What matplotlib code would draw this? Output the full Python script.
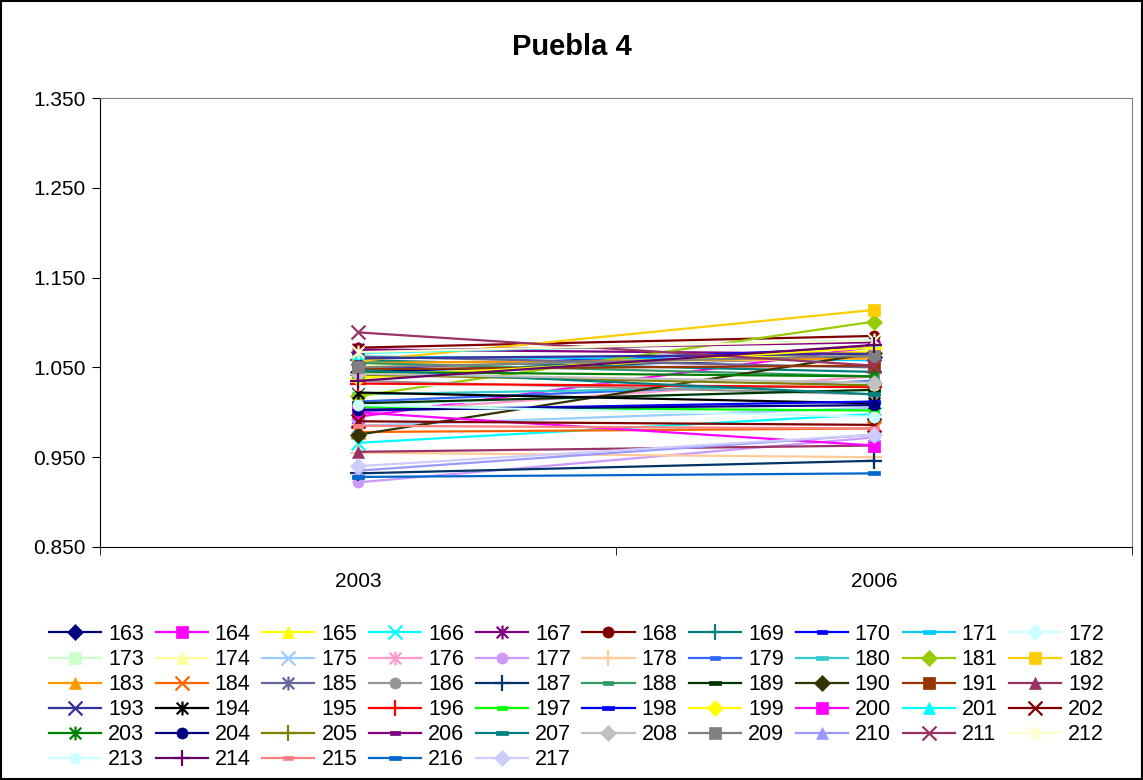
import numpy as np
import matplotlib.pyplot as plt
from matplotlib.path import Path
from matplotlib.patches import Rectangle

plt.rcParams['font.family'] = ['Liberation Sans', 'DejaVu Sans']

# Data
years = ["2003", "2006"]
series = [str(n) for n in range(163, 218)]

v2003 = [1.045, 0.995, 1.040, 0.966, 1.070, 1.072, 1.058, 1.048, 1.062, 1.008,
         1.030, 1.052, 0.985, 1.000, 0.922, 0.955, 1.012, 1.020, 1.018, 1.057,
         1.055, 0.978, 1.062, 1.035, 0.932, 1.055, 1.010, 0.975, 1.048, 0.956,
         1.060, 1.022, 1.030, 1.032, 1.006, 1.002, 1.038, 1.000, 1.066, 0.990,
         1.045, 1.003, 1.042, 1.068, 1.047, 1.043, 1.050, 0.935, 1.089, 1.067,
         1.008, 1.035, 0.985, 0.928, 0.940]
v2006 = [1.062, 1.073, 1.068, 0.998, 1.065, 1.085, 1.045, 1.072, 1.058, 1.025,
         1.030, 1.060, 1.005, 1.040, 0.972, 0.950, 1.035, 1.030, 1.101, 1.114,
         1.060, 0.982, 1.050, 1.020, 0.946, 1.040, 1.025, 1.066, 1.052, 0.963,
         1.065, 1.010, 1.030, 1.028, 1.002, 1.012, 1.072, 0.963, 1.080, 0.986,
         1.040, 1.008, 1.030, 1.078, 1.020, 1.033, 1.063, 0.975, 1.052, 1.080,
         0.995, 1.075, 0.982, 0.932, 0.975]

colors = ["#000080", "#FF00FF", "#FFFF00", "#00FFFF", "#800080", "#800000", "#008080",
          "#0000FF", "#00CCFF", "#CCFFFF", "#CCFFCC", "#FFFF99", "#99CCFF", "#FF99CC",
          "#CC99FF", "#FFCC99", "#3366FF", "#33CCCC", "#99CC00", "#FFCC00", "#FF9900",
          "#FF6600", "#666699", "#969696", "#003366", "#339966", "#003300", "#333300",
          "#993300", "#993366", "#333399", "#000000", "#FFFFFF", "#FF0000", "#00FF00",
          "#0000FF", "#FFFF00", "#FF00FF", "#00FFFF", "#800000", "#008000", "#000080",
          "#808000", "#800080", "#008080", "#C0C0C0", "#808080", "#9999FF", "#993366",
          "#FFFFCC", "#CCFFFF", "#660066", "#FF8080", "#0066CC", "#CCCCFF"]

# Excel-like markers
asterisk = Path([(-1, -1), (1, 1), (-1, 1), (1, -1), (0, -1.2), (0, 1.2)],
                [Path.MOVETO, Path.LINETO, Path.MOVETO, Path.LINETO, Path.MOVETO, Path.LINETO])
xmark = Path([(-1, -1), (1, 1), (-1, 1), (1, -1)],
             [Path.MOVETO, Path.LINETO, Path.MOVETO, Path.LINETO])
plus = Path([(-1, 0), (1, 0), (0, -1), (0, 1)],
            [Path.MOVETO, Path.LINETO, Path.MOVETO, Path.LINETO])
dash = Path([(-1, -0.35), (1, -0.35), (1, 0.35), (-1, 0.35), (-1, -0.35)],
            [Path.MOVETO, Path.LINETO, Path.LINETO, Path.LINETO, Path.CLOSEPOLY])
# (marker, size, filled)
marker_cycle = [("D", 8, True), ("s", 8, True), ("^", 9, True), (xmark, 10, False),
                (asterisk, 10, False), ("o", 8, True), (plus, 11, False),
                (dash, 7, True), (dash, 9, True)]

fig = plt.figure(figsize=(11.43, 7.8), dpi=100)
ax = fig.add_axes([100 / 1143, 1 - 547 / 780, 1032 / 1143, 449 / 780])

x = np.arange(len(years))
handles = []
for i, name in enumerate(series):
    m, ms, filled = marker_cycle[i % len(marker_cycle)]
    c = colors[i]
    kw = dict(color=c, linewidth=1.6, marker=m, markersize=ms,
              markeredgecolor=c, clip_on=False)
    if filled:
        kw["markerfacecolor"] = c
        kw["markeredgewidth"] = 0.5
    else:
        kw["markerfacecolor"] = "none"
        kw["markeredgewidth"] = 1.6
    h, = ax.plot(x, [v2003[i], v2006[i]], label=name, **kw)
    handles.append(h)

ax.set_xlim(-0.5, 1.5)
ax.set_ylim(0.85, 1.35)
ax.set_yticks(np.arange(0.85, 1.351, 0.1))
ax.yaxis.set_major_formatter(plt.FuncFormatter(lambda v, p: f"{v:.3f}"))
ax.set_xticks(x)
ax.set_xticklabels(years)
ax.set_xticks([-0.5, 0.5, 1.5], minor=True)
ax.tick_params(axis="x", which="major", length=0, pad=18, labelsize=15)
ax.tick_params(axis="x", which="minor", length=6, direction="out")
ax.tick_params(axis="y", length=6, direction="out", labelsize=15, pad=4)
for s in ["top", "right"]:
    ax.spines[s].set_color("#808080")
for s in ["left", "bottom"]:
    ax.spines[s].set_color("black")

fig.text(0.5, 1 - 47 / 780, "Puebla 4", ha="center", va="center",
         fontsize=21, fontweight="bold")

# legend in row order (163..172 on first row)
ncol = 10
order = []
for col in range(ncol):
    for row in range(6):
        k = row * ncol + col
        if k < len(handles):
            order.append(k)
fig.legend([handles[k] for k in order], [series[k] for k in order],
           ncol=ncol, loc="upper left", bbox_to_anchor=(49 / 1143, 1 - 624 / 780),
           frameon=False, fontsize=15.5, handlelength=2.42, handletextpad=0.33,
           columnspacing=0.53, labelspacing=0.19, borderpad=0, borderaxespad=0)

fig.patches.append(Rectangle((0.001, 0.001), 0.998, 0.998, transform=fig.transFigure,
                             fill=False, edgecolor="black", linewidth=1.5))

fig.savefig("out.png", dpi=100)
